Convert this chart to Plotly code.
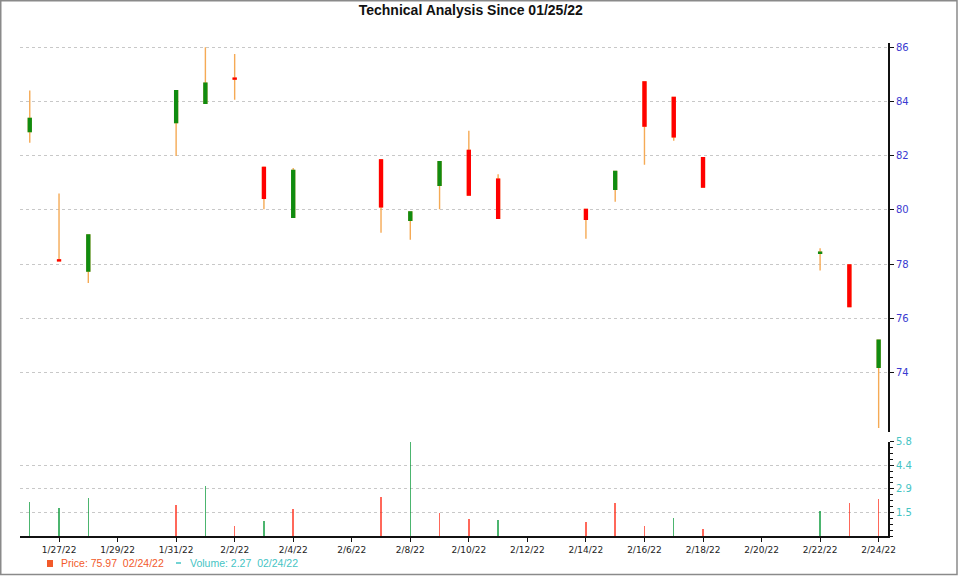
import plotly.graph_objects as go

# ---------------- data ----------------
dates = ['2022-01-26', '2022-01-27', '2022-01-28', '2022-01-31', '2022-02-01',
         '2022-02-02', '2022-02-03', '2022-02-04', '2022-02-07', '2022-02-08',
         '2022-02-09', '2022-02-10', '2022-02-11', '2022-02-14', '2022-02-15',
         '2022-02-16', '2022-02-17', '2022-02-18', '2022-02-22', '2022-02-23',
         '2022-02-24']
open_ = [82.89, 78.16, 77.75, 83.23, 83.94, 84.86, 81.57, 79.73, 81.85, 79.62,
         80.91, 82.20, 81.14, 80.02, 80.76, 84.72, 84.15, 81.93, 78.40, 77.97, 74.20]
high = [84.41, 80.61, 79.10, 84.42, 86.00, 85.75, 81.60, 81.55, 81.87, 79.95,
        81.80, 82.92, 81.32, 80.04, 81.44, 84.74, 84.17, 81.95, 78.59, 77.99, 75.22]
low = [82.48, 78.12, 77.31, 81.99, 83.92, 84.07, 80.03, 79.71, 79.16, 78.90,
       80.03, 80.53, 79.67, 78.94, 80.30, 81.67, 82.55, 80.83, 77.77, 76.42, 71.96]
close = [83.38, 78.13, 79.08, 84.40, 84.68, 84.83, 80.43, 81.46, 80.12, 79.93,
         81.78, 80.55, 79.69, 79.66, 81.42, 83.10, 82.70, 80.85, 78.44, 76.44, 75.20]
volume = [2.14, 1.77, 2.37, 1.90, 3.07, 0.64, 0.95, 1.65, 2.43, 5.80, 1.42,
          1.07, 1.01, 0.89, 2.02, 0.64, 1.14, 0.48, 1.54, 2.02, 2.27]
vol_dir = ['up', 'up', 'up', 'down', 'up', 'down', 'up', 'down', 'down', 'up',
           'down', 'down', 'up', 'down', 'down', 'down', 'up', 'down', 'up',
           'down', 'down']

price_ticks = [74, 76, 78, 80, 82, 84, 86]
vol_tickvals = [1.45, 2.9, 4.35, 5.8]
vol_ticktext = ['1.5', '2.9', '4.4', '5.8']

title_text = 'Technical Analysis Since 01/25/22'
legend_price = 'Price: 75.97  02/24/22'
legend_volume = 'Volume: 2.27  02/24/22'

# ---------------- layout geometry ----------------
W, H = 960, 576
ML, MR, MT, MB = 20, 72, 43, 40
PW, PH = W - ML - MR, H - MT - MB


def px_x(p):
    return (p - ML) / PW


def px_y(p):
    return (H - MB - p) / PH


GREEN = '#108C10'
RED = '#FF0000'
WICK = '#F5AA55'

body_hi = [max(o, c) for o, c in zip(open_, close)]
body_lo = [min(o, c) for o, c in zip(open_, close)]

fig = go.Figure()

# wicks
fig.add_trace(go.Candlestick(
    x=dates, open=open_, high=high, low=low, close=close,
    increasing=dict(line=dict(color=WICK, width=1.4), fillcolor='rgba(0,0,0,0)'),
    decreasing=dict(line=dict(color=WICK, width=1.4), fillcolor='rgba(0,0,0,0)'),
    xaxis='x', yaxis='y', showlegend=False, hoverinfo='skip'))

# bodies
fig.add_trace(go.Candlestick(
    x=dates, open=open_, high=body_hi, low=body_lo, close=close,
    increasing=dict(line=dict(color=GREEN, width=1.4), fillcolor=GREEN),
    decreasing=dict(line=dict(color=RED, width=1.4), fillcolor=RED),
    xaxis='x', yaxis='y', showlegend=False))

vol_colors = ['rgba(0,150,50,0.7)' if d == 'up' else 'rgba(255,40,20,0.7)' for d in vol_dir]
fig.add_trace(go.Bar(
    x=dates, y=volume, marker=dict(color=vol_colors, line=dict(width=0)),
    width=0.05 * 86400000, xaxis='x2', yaxis='y2', showlegend=False))

xrange = ['2022-01-25 16:00', '2022-02-24 07:40']
grid = dict(showgrid=True, gridcolor='#C8C8C8', griddash='dot', gridwidth=1)

fig.update_layout(
    width=W, height=H,
    margin=dict(l=ML, r=MR, t=MT, b=MB, pad=0),
    paper_bgcolor='white', plot_bgcolor='white',
    showlegend=False,
    boxgap=0.86,
    bargap=0,
    title=dict(text=title_text, x=470.8 / W, xanchor='center', xref='container',
               y=1 - 10 / H, yanchor='middle', yref='container',
               font=dict(family='Liberation Sans, Arial', size=14, color='#111111', weight=700)),
    xaxis=dict(domain=[0, 1], anchor='y', range=xrange, type='date',
               showticklabels=False, showgrid=False, showline=False, ticks='',
               rangeslider=dict(visible=False), zeroline=False),
    xaxis2=dict(domain=[0, 1], anchor='y2', matches='x', type='date', range=xrange,
                showgrid=False, showline=True, linecolor='#111111', linewidth=2,
                ticks='outside', ticklen=4, tickcolor='#111111', tickwidth=1,
                tick0='2022-01-27', dtick=2 * 86400000, tickformat='%-m/%-d/%y',
                tickfont=dict(family='DejaVu Sans', size=9, color='#222222'),
                zeroline=False),
    yaxis=dict(domain=[(H - MB - 432) / PH, 1], anchor='x', side='right',
               range=[71.81, 86.16], tickvals=price_ticks,
               showline=True, linecolor='#111111', linewidth=2,
               ticks='outside', ticklen=4, tickcolor='#111111',
               tickfont=dict(family='DejaVu Sans', size=10, color='#3A3AD0'),
               zeroline=False, **grid),
    yaxis2=dict(domain=[0, (H - MB - 441.7) / PH], anchor='x2', side='right',
                range=[0, 5.8], tickvals=vol_tickvals, ticktext=vol_ticktext,
                showline=True, linecolor='#111111', linewidth=2,
                ticks='outside', ticklen=4, tickcolor='#111111',
                minor=dict(ticks='outside', ticklen=3, tick0=0, dtick=0.3625,
                           tickcolor='#111111', showgrid=False),
                tickfont=dict(family='DejaVu Sans', size=10, color='#45C4C4'),
                zeroline=False, **grid),
)

# legend (as text + markers)
fig.add_annotation(text=legend_price, xref='paper', yref='paper',
                   x=px_x(59), y=px_y(563), xanchor='left', yanchor='middle',
                   showarrow=False,
                   font=dict(family='Liberation Sans, Arial', size=10.5, color='#F25A2A'))
fig.add_annotation(text=legend_volume, xref='paper', yref='paper',
                   x=px_x(187.5), y=px_y(563), xanchor='left', yanchor='middle',
                   showarrow=False,
                   font=dict(family='Liberation Sans, Arial', size=10.5, color='#45C4C4'))
fig.add_shape(type='rect', xref='paper', yref='paper',
              x0=px_x(47), x1=px_x(53), y0=px_y(560), y1=px_y(567),
              fillcolor='#F25A2A', line=dict(width=0))
fig.add_shape(type='line', xref='paper', yref='paper',
              x0=px_x(176), x1=px_x(181), y0=px_y(563), y1=px_y(563),
              line=dict(color='#45C4C4', width=1.5))

# outer border
fig.add_shape(type='rect', xref='paper', yref='paper',
              x0=px_x(0.75), x1=px_x(957), y0=px_y(0.75), y1=px_y(574.5),
              line=dict(color='#8A8A8A', width=1.5), fillcolor='rgba(0,0,0,0)')

fig.write_html('out.html')
